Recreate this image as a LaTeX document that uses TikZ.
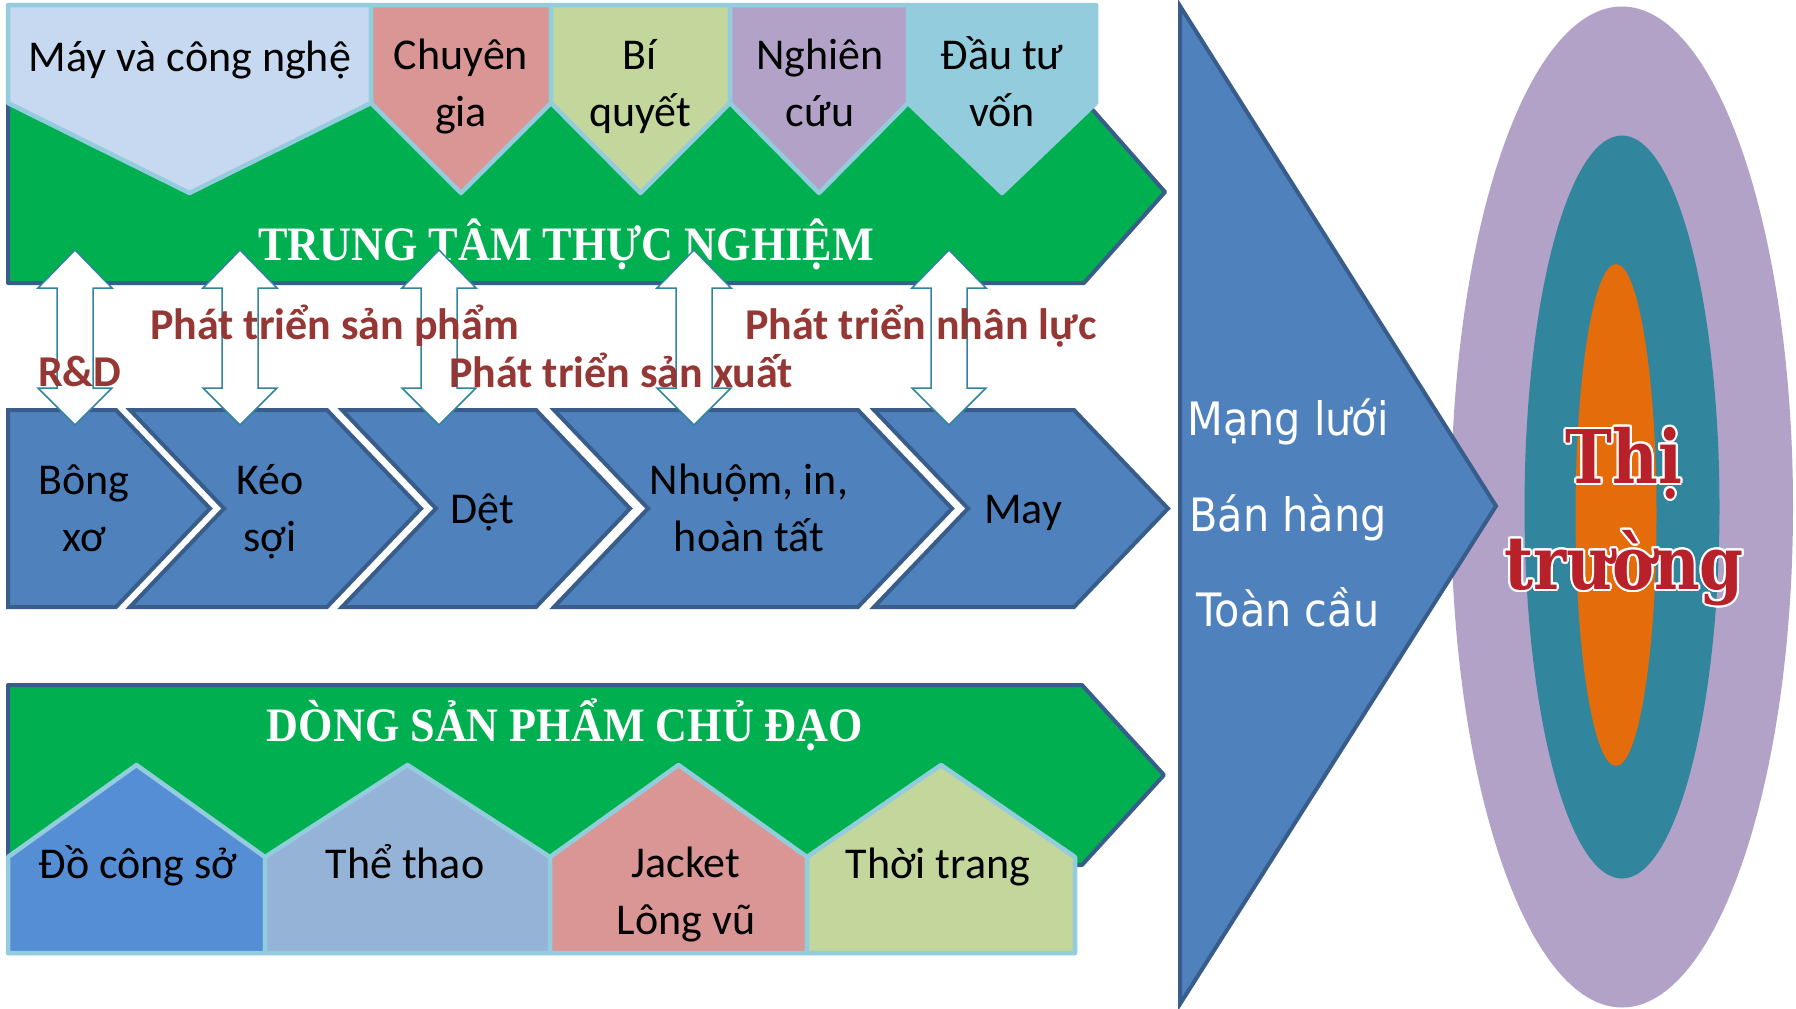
\documentclass[tikz,border=0pt]{standalone}
\usepackage{fontspec}
\usepackage[copies]{contour}
\usetikzlibrary{shapes.geometric}
\setmainfont{Carlito}
\newfontfamily\headfont[FakeStretch=0.92]{Liberation Serif}
\newfontfamily\netfont[FakeStretch=0.9]{DejaVu Sans}
\newfontfamily\marketfont[FakeStretch=0.85]{DejaVu Serif}
\definecolor{grn}{HTML}{00B050}
\definecolor{edgeblue}{HTML}{385D8A}
\definecolor{chevblue}{HTML}{4F81BD}
\definecolor{lightrim}{HTML}{93CDDD}
\definecolor{redlabel}{HTML}{953735}
\definecolor{arrowrim}{HTML}{31849B}
\definecolor{boxA}{HTML}{C6D9F1}
\definecolor{boxB}{HTML}{D99694}
\definecolor{boxC}{HTML}{C3D69B}
\definecolor{boxD}{HTML}{B2A2C7}
\definecolor{boxE}{HTML}{93CDDD}
\definecolor{houseA}{HTML}{558ED5}
\definecolor{houseB}{HTML}{95B3D7}
\definecolor{tealring}{HTML}{31859C}
\definecolor{orangecore}{HTML}{E46C0A}
\definecolor{marketred}{HTML}{B8202A}
\contourlength{2pt}

\begin{document}
\begin{tikzpicture}[x = 1pt, y = -1pt,
  band/.style = {fill = grn, draw = edgeblue, line width = 4, line join = round},
  topbox/.style = {draw = lightrim, line width = 4.5, line join = round},
  chev/.style = {fill = chevblue, draw = edgeblue, line width = 4},
  twoway/.style = {fill = white, draw = arrowrim, line width = 1.5},
  txt/.style = {font = \fontsize{44}{57}\selectfont, align = center, inner sep = 0},
  lbl/.style = {font = \fontsize{44}{53}\selectfont\bfseries, text = redlabel, inner sep = 0, anchor = base west},
  head/.style = {font = \headfont\bfseries\fontsize{48}{56}\selectfont, text = white, inner sep = 0, anchor = base},
  ring/.style = {shape = ellipse, inner sep = 0}]
\path[use as bounding box, fill = white] (0,0) rectangle (1796,1009);

\draw[band] (8,100) -- (1084,100) -- (1165,192) -- (1084,283) -- (8,283) -- cycle;
\foreach \xa/\xb/\col in {8/371/boxA, 371/551/boxB, 551/730/boxC, 730/908/boxD, 908/1096/boxE}
  \draw[topbox, fill = \col] (\xa,5) -- (\xb,5) -- (\xb,103) -- ({(\xa+\xb)/2},193) -- (\xa,103) -- cycle;
\node[txt] (1) at (190,60) {\strut Máy và công nghệ};
\node[txt] (2) at (461,87) {\strut Chuyên\\\strut gia};
\node[txt] (3) at (640,87) {\strut Bí\\\strut quyết};
\node[txt] (4) at (820,87) {\strut Nghiên\\\strut cứu};
\node[txt] (5) at (1002,87) {\strut Đầu tư\\\strut vốn};
\node[head] (10) at (566,260) {TRUNG TÂM THỰC NGHIỆM};

\draw[chev] (8,410) -- (116,410) -- (210,508.5) -- (116,607) -- (8,607) -- cycle;
\foreach \l/\s in {130/327, 342/536, 554/858, 874/1074}
  \draw[chev] (\l,410) -- (\s,410) -- (\s+94,508.5) -- (\s,607) -- (\l,607) -- (\l+94,508.5) -- cycle;
\node[txt] (11) at (84,512) {\strut Bông\\\strut xơ};
\node[txt] (12) at (270,512) {\strut Kéo\\\strut sợi};
\node[txt] (13) at (482,512) {\strut Dệt};
\node[txt] (14) at (749,512) {\strut Nhuộm, in,\\\strut hoàn tất};
\node[txt] (15) at (1023,512) {\strut May};

\foreach \x in {75, 240, 439, 694, 949}
  \draw[twoway] (\x,250) -- ++(37,38) -- ++(-19,0) -- ++(0,100) -- ++(19,0) -- (\x,425)
    -- ++(-37,-37) -- ++(19,0) -- ++(0,-100) -- ++(-19,0) -- cycle;
\node[lbl] (31) at (38,386) {R\&D};
\node[lbl] (32) at (150,339) {Phát triển sản phẩm};
\node[lbl] (33) at (449,387) {Phát triển sản xuất};
\node[lbl] (34) at (745,339) {Phát triển nhân lực};

\draw[band] (8,685) -- (1082,685) -- (1164,775) -- (1082,865) -- (8,865) -- cycle;
\node[head] (20) at (565,741) {DÒNG SẢN PHẨM CHỦ ĐẠO};
\foreach \xa/\xb/\col in {8/265/houseA, 265/550/houseB, 550/807/boxB, 807/1075/boxC}
  \draw[topbox, fill = \col] (\xa,953) -- (\xa,857) -- ({(\xa+\xb)/2},765) -- (\xb,857) -- (\xb,953) -- cycle;
\node[txt] (21) at (138,867) {\strut Đồ công sở};
\node[txt] (22) at (405,867) {\strut Thể thao};
\node[txt] (23) at (686,895) {\strut Jacket\\\strut Lông vũ};
\node[txt] (24) at (938,867) {\strut Thời trang};

\node[ring, fill = boxD, minimum width = 342, minimum height = 1001] (50) at (1622,507) {};
\node[ring, fill = tealring, minimum width = 195, minimum height = 743] (51) at (1622,507) {};
\node[ring, fill = orangecore, minimum width = 81, minimum height = 502] (52) at (1616,515) {};
\node[txt, font = \marketfont\bfseries\fontsize{74}{106}\selectfont, text = marketred] (53) at (1624,515)
  {\strut\contour{white}{Thị}\\\strut\contour{white}{trường}};

\draw[chev] (1180,6) -- (1496,506) -- (1180,1004) -- cycle;
\node[txt, font = \netfont\fontsize{46}{95.5}\selectfont, text = white] (40) at (1288,512)
  {\strut Mạng lưới\\\strut Bán hàng\\\strut Toàn cầu};
\end{tikzpicture}
\end{document}
